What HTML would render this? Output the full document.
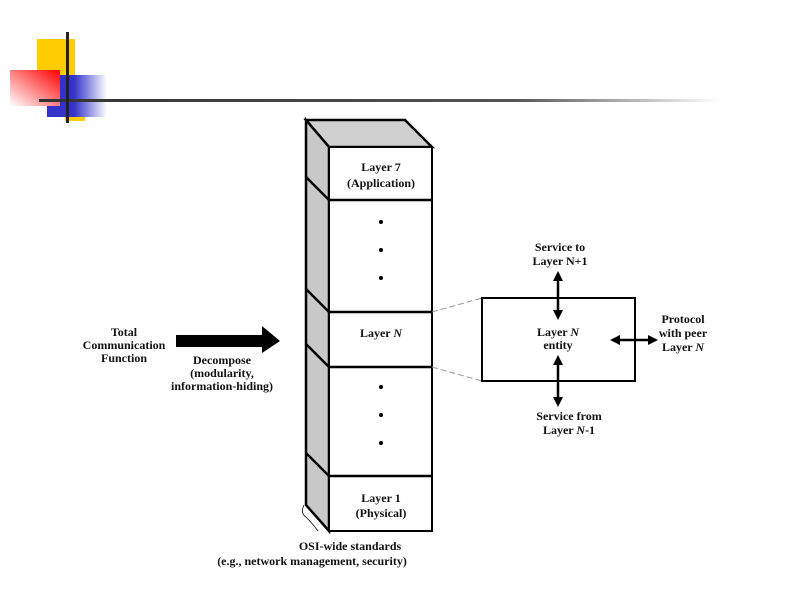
<!DOCTYPE html>
<html><head><style>
html,body{margin:0;padding:0;background:#fff;}
svg text{font-family:"Liberation Serif",serif;font-weight:bold;font-size:12px;fill:#111;}
</style></head><body>
<svg width="800" height="600" viewBox="0 0 800 600" xmlns="http://www.w3.org/2000/svg">
<defs>
<linearGradient id="rg" x1="1" y1="0" x2="0" y2="1"><stop offset="0" stop-color="#ff0000"/><stop offset="1" stop-color="#ffffff"/></linearGradient>
<linearGradient id="bg" x1="0" y1="0" x2="1" y2="0"><stop offset="0" stop-color="#3333cc"/><stop offset="0.45" stop-color="#3333cc"/><stop offset="1" stop-color="#ffffff"/></linearGradient>
<linearGradient id="lg" x1="0" y1="0" x2="1" y2="0"><stop offset="0" stop-color="#333"/><stop offset="0.7" stop-color="#555"/><stop offset="1" stop-color="#fff"/></linearGradient>
</defs>
<rect x="37" y="39" width="38" height="62" fill="#ffcc00"/>
<rect x="65" y="101" width="20" height="20" fill="#ffcc00"/>
<rect x="47" y="75" width="60" height="42" fill="url(#bg)"/>
<rect x="10" y="70" width="50" height="36" fill="url(#rg)"/>
<rect x="39" y="99" width="680" height="3" fill="url(#lg)"/>
<rect x="66" y="32" width="3" height="91" fill="#222"/>

<polygon points="306,120 405,120 432,147 329,147" fill="#d0d0d0" stroke="#000" stroke-width="2.5"/>
<polygon points="306,120 329,147 329,531 306,505" fill="#c8c8c8" stroke="#000" stroke-width="2.5"/>
<rect x="329" y="147" width="103" height="384" fill="#fff" stroke="#000" stroke-width="2"/>
<g stroke="#000" stroke-width="2.5">
<line x1="329" y1="200" x2="432" y2="200"/>
<line x1="329" y1="312" x2="432" y2="312"/>
<line x1="329" y1="367" x2="432" y2="367"/>
<line x1="329" y1="476" x2="432" y2="476"/>
<line x1="306" y1="177" x2="329" y2="200"/>
<line x1="306" y1="289" x2="329" y2="312"/>
<line x1="306" y1="344" x2="329" y2="367"/>
<line x1="306" y1="453" x2="329" y2="476"/>
</g>
<path d="M304,505 q-4,8 2,12 q6,6 12,14" fill="none" stroke="#000" stroke-width="0.8"/>
<g fill="#000"><circle cx="381" cy="222" r="2"/><circle cx="381" cy="250" r="2"/><circle cx="381" cy="278" r="2"/>
<circle cx="381" cy="387" r="2"/><circle cx="381" cy="415" r="2"/><circle cx="381" cy="443" r="2"/></g>
<text x="381" y="171" text-anchor="middle">Layer 7</text>
<text x="381" y="187" text-anchor="middle">(Application)</text>
<text x="381" y="337" text-anchor="middle">Layer <tspan font-style="italic">N</tspan></text>
<text x="381" y="502" text-anchor="middle">Layer 1</text>
<text x="381" y="517" text-anchor="middle">(Physical)</text>
<text x="350" y="550" text-anchor="middle">OSI-wide standards</text>
<text x="312" y="565" text-anchor="middle">(e.g., network management, security)</text>

<text x="124" y="336" text-anchor="middle">Total</text>
<text x="124" y="349" text-anchor="middle">Communication</text>
<text x="124" y="362" text-anchor="middle">Function</text>
<polygon points="176,335 262,335 262,326 280,341 262,353 262,347 176,347" fill="#000"/>
<text x="222" y="364" text-anchor="middle">Decompose</text>
<text x="222" y="377" text-anchor="middle">(modularity,</text>
<text x="222" y="390" text-anchor="middle">information-hiding)</text>

<line x1="432" y1="312" x2="482" y2="298" stroke="#999" stroke-dasharray="6,3"/>
<line x1="432" y1="367" x2="482" y2="381" stroke="#999" stroke-dasharray="6,3"/>
<rect x="482" y="298" width="153" height="83" fill="#fff" stroke="#000" stroke-width="2"/>
<g stroke="#000" stroke-width="2.5">
<line x1="558" y1="278" x2="558" y2="313"/>
<line x1="558" y1="362" x2="558" y2="400"/>
<line x1="616" y1="340" x2="651" y2="340"/>
</g>
<g fill="#000">
<polygon points="558,271 553,281 563,281"/><polygon points="558,320 553,310 563,310"/>
<polygon points="558,355 553,365 563,365"/><polygon points="558,407 553,397 563,397"/>
<polygon points="610,340 620,335 620,345"/><polygon points="658,340 648,335 648,345"/>
</g>
<text x="560" y="251" text-anchor="middle">Service to</text>
<text x="560" y="265" text-anchor="middle">Layer N+1</text>
<text x="558" y="336" text-anchor="middle">Layer <tspan font-style="italic">N</tspan></text>
<text x="558" y="349" text-anchor="middle">entity</text>
<text x="569" y="420" text-anchor="middle">Service from</text>
<text x="569" y="434" text-anchor="middle">Layer <tspan font-style="italic">N</tspan>-1</text>
<text x="683" y="323" text-anchor="middle">Protocol</text>
<text x="683" y="337" text-anchor="middle">with peer</text>
<text x="683" y="351" text-anchor="middle">Layer <tspan font-style="italic">N</tspan></text>
</svg>
</body></html>
